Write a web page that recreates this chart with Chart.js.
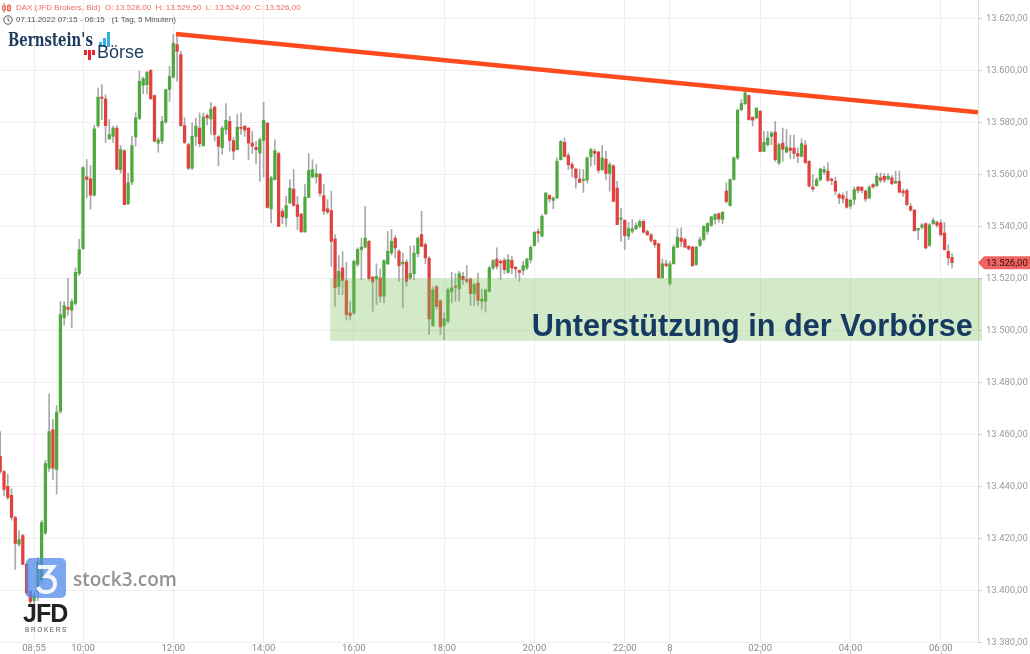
<!DOCTYPE html>
<html>
<head>
<meta charset="utf-8">
<script src="https://cdn.jsdelivr.net/npm/chart.js@4.4.1/dist/chart.umd.min.js"></script>
<style>
  html, body { margin: 0; padding: 0; background: #fff; }
  #wrap { position: relative; width: 1030px; height: 654px; overflow: hidden; font-family: "Liberation Sans", Arial, sans-serif; }
  #chart { position: absolute; left: 0; top: 0; }
  .hdr { position: absolute; left: 16px; font-size: 8px; white-space: pre; line-height: 10px; }
  #h1 { top: 3px; color: #ee6a63; }
  #h2 { top: 15px; color: #555; }
  .ico { position: absolute; left: 2px; }
  #bern { position: absolute; left: 8px; top: 29px; font-family: "DejaVu Serif", serif; font-weight: bold; font-size: 18px; color: #1c3b5e; transform: scaleX(0.74); transform-origin: left top; }
  #boerse { position: absolute; left: 97px; top: 42px; font-size: 18px; color: #1c3b5e; }
  .bar { position: absolute; background: #35aee6; }
  .rbar { position: absolute; background: #e8262c; }
  #s3box { position: absolute; left: 26px; top: 558px; width: 40px; height: 40px; border-radius: 5px; background: rgba(80,138,232,0.75); }
  #s3txt { position: absolute; left: 73px; top: 566px; font-size: 19px; color: rgba(120,120,120,0.8); font-family: "Open Sans", "Liberation Sans", sans-serif; font-weight: 600; }
  #jfd { position: absolute; left: 23px; top: 599px; font-size: 25px; font-weight: bold; color: #222; letter-spacing: -1px; }
  #brokers { position: absolute; left: 25px; top: 626px; font-size: 6.5px; color: #555; letter-spacing: 1.6px; }
</style>
</head>
<body>
<div id="wrap">
  <canvas id="chart" width="1030" height="654"></canvas>
  <svg class="ico" style="top:3px" width="10" height="10" viewBox="0 0 10 10">
    <path d="M2 0v10M7 1v8" stroke="#ee6a63" stroke-width="1"/>
    <rect x="0.5" y="3" width="3" height="4" fill="none" stroke="#ee6a63"/>
    <rect x="5.5" y="2.5" width="3" height="5" fill="none" stroke="#ee6a63"/>
  </svg>
  <div class="hdr" id="h1">DAX (JFD Brokers, Bid)  O: 13.528,00  H: 13.529,50  L: 13.524,00  C: 13.526,00</div>
  <svg class="ico" style="top:15px;left:3px" width="10" height="10" viewBox="0 0 10 10">
    <circle cx="5" cy="5" r="4.2" fill="none" stroke="#555" stroke-width="1"/>
    <path d="M5 2.5v2.8l1.8 1.2" fill="none" stroke="#555" stroke-width="1"/>
  </svg>
  <div class="hdr" id="h2">07.11.2022 07:15 - 06:15   (1 Tag, 5 Minuten)</div>
  <div id="bern">Bernstein's</div>
  <div class="bar" style="left:99px;top:42px;width:3px;height:5px"></div>
  <div class="bar" style="left:103px;top:38px;width:3px;height:9px"></div>
  <div class="bar" style="left:107px;top:32px;width:3px;height:15px"></div>
  <div class="rbar" style="left:84px;top:50px;width:3px;height:5px"></div>
  <div class="rbar" style="left:88px;top:50px;width:3px;height:10px"></div>
  <div class="rbar" style="left:92px;top:50px;width:3px;height:5px"></div>
  <div id="boerse">Börse</div>
  <div id="s3box"><svg width="40" height="40" viewBox="0 0 40 40"><path d="M12 9h15l-7 9c6 0 9 3 9 8s-4 8-9 8c-4 0-7-2-8-5" fill="none" stroke="rgba(255,255,255,0.9)" stroke-width="4"/></svg></div>
  <div id="s3txt">stock3.com</div>
  <div id="jfd">JFD</div>
  <div id="brokers">BROKERS</div>
</div>
<script>
// 5 minute sessions shown (07.11. 08:10 - 22:55, 08.11. 00:00 - 06:15)
const sessions = [['08:10', '22:55'], ['00:00', '06:15']];

const opens = [
  13451.5, 13445.7, 13440, 13436.5, 13428, 13417.7, 13421, 13410, 13399.5, 13396,
  13399.5, 13404, 13422, 13447, 13461.8, 13446.5, 13468.8, 13504.9, 13508.8, 13507.7,
  13510.3, 13521.8, 13531.5, 13559, 13558.3, 13552, 13578.7, 13589.7, 13589, 13573.7,
  13574.6, 13577.8, 13561.8, 13569, 13548.7, 13557, 13574.4, 13581.5, 13594.2, 13594.5,
  13600, 13590.3, 13572, 13572.7, 13580.1, 13592.6, 13597.4, 13609.9, 13606, 13578.7,
  13571.4, 13562.4, 13574.6, 13577.8, 13571, 13582.6, 13581.3, 13585.9, 13574.4, 13570.2,
  13577.2, 13580.4, 13573, 13569.5, 13578.1, 13578.5, 13577.8, 13572, 13570.4, 13568.2,
  13573, 13579.7, 13546.7, 13558, 13568, 13545.8, 13543.2, 13549, 13554.3, 13548.3,
  13544.7, 13537.8, 13551, 13559, 13559, 13560, 13551.8, 13546.7, 13546, 13535.1,
  13516.9, 13524, 13519, 13506.7, 13506.7, 13525.3, 13531, 13532, 13534.2, 13520.5,
  13519.8, 13520.1, 13513.1, 13525.5, 13529.8, 13535.5, 13530.4, 13525.5, 13526.2, 13520.1,
  13521.8, 13529.5, 13536.8, 13533, 13527.7, 13501.8, 13516.7, 13511.2, 13501.8, 13503.5,
  13515, 13517, 13515.9, 13520.8, 13519.5, 13519.7, 13514.1, 13518.2, 13511.2, 13511.2,
  13515, 13524, 13527.4, 13526.5, 13526.9, 13522.3, 13526.9, 13524.2, 13523, 13523,
  13524, 13527.2, 13532.6, 13538, 13536.2, 13544.9, 13551.8, 13550, 13550.9, 13565.6,
  13572.3, 13567.2, 13563.7, 13562, 13558.2, 13557.6, 13557.7, 13566.7, 13568.8, 13568.5,
  13561.8, 13565.9, 13560.3, 13563.3, 13554.7, 13542.6, 13542.3, 13536.2, 13538.1, 13539,
  13540, 13541.9, 13538, 13536.7, 13534.6, 13533.3, 13520.1, 13525.6, 13518, 13525.6,
  13532, 13535.5, 13534.9, 13532.3, 13532, 13525.3, 13532.6, 13535, 13538, 13540.3,
  13542.6, 13544.9, 13542.6, 13553.5, 13548, 13558, 13566.3, 13584.9, 13587.2, 13590.3,
  13581.9, 13581.7, 13584.2, 13568.8, 13571.4, 13574.6, 13576.2, 13564.4, 13572, 13568.5,
  13570.1, 13570.1, 13568, 13566.9, 13571.2, 13565, 13555.1, 13555.6, 13557.9, 13560.8,
  13561.2, 13558.2, 13557.3, 13552.2, 13551.8, 13550.5, 13547.7, 13550.3, 13555.1, 13555.1,
  13553.5, 13550.9, 13556, 13555.6, 13558.6, 13559.2, 13558.2, 13558.6, 13556.7, 13557.3,
  13553.5, 13553.8, 13547.7, 13546.2, 13538.5, 13539.7, 13541, 13532.6, 13541, 13541.5,
  13541.3, 13537.4, 13530.4, 13528
];
const highs = [
  13461, 13446, 13444.6, 13439, 13428.5, 13423, 13421.5, 13410.5, 13400, 13399,
  13412.6, 13427, 13450, 13475.6, 13465.7, 13471, 13511, 13511, 13520, 13512,
  13524, 13535, 13563, 13565.7, 13563.4, 13578.8, 13593.2, 13594.5, 13590.6, 13581,
  13578.5, 13578.7, 13571, 13569.5, 13560.5, 13574.6, 13583.6, 13599.6, 13597.4, 13599.6,
  13600.3, 13590.6, 13574, 13582.3, 13592.8, 13601.5, 13613.7, 13613.7, 13607.3, 13581.7,
  13572, 13579.7, 13581.5, 13583.6, 13583.6, 13583.3, 13587.7, 13586.2, 13574.9, 13578.5,
  13587.2, 13582.3, 13574, 13583, 13583.6, 13578.7, 13578, 13576.5, 13572.7, 13574,
  13587.7, 13580, 13559.2, 13573.3, 13568.5, 13546.7, 13551.5, 13558, 13561.8, 13551.5,
  13545, 13556, 13568, 13565.6, 13563.7, 13560.5, 13556, 13550.3, 13553.5, 13536.8,
  13528.7, 13530.4, 13526, 13511, 13527.2, 13531.7, 13535.5, 13547.7, 13534.6, 13520.8,
  13525.6, 13523.6, 13527.2, 13538, 13538.7, 13536.4, 13531, 13529.7, 13527.2, 13532.3,
  13532.6, 13535.9, 13545.8, 13533.6, 13528.5, 13516.7, 13517.2, 13511.8, 13506.7, 13516.3,
  13522.3, 13521.8, 13522.7, 13522.3, 13524.9, 13520.1, 13518.2, 13522, 13515.9, 13515.9,
  13524.6, 13527.2, 13531.7, 13527.2, 13527.8, 13529.1, 13528.5, 13524.6, 13523.3, 13526.5,
  13527.8, 13532.6, 13538.1, 13539, 13544.5, 13553.1, 13552.2, 13551.3, 13566.3, 13573,
  13574, 13568.2, 13564.6, 13562.4, 13562, 13561.8, 13566.7, 13570.1, 13569.7, 13568.8,
  13571, 13568.8, 13564.6, 13563.7, 13557.3, 13547, 13542.6, 13541.5, 13542.6, 13541.3,
  13542.6, 13542.6, 13538.5, 13537.2, 13534.9, 13533.6, 13527.4, 13526.9, 13526.5, 13532.9,
  13539, 13539.4, 13535.5, 13532.6, 13532.3, 13532.3, 13535.9, 13540.3, 13541.5, 13543.8,
  13544.9, 13545.1, 13545.8, 13556.7, 13558.3, 13566.7, 13585.1, 13588.7, 13591.9, 13590.6,
  13582.1, 13585.5, 13584.6, 13576.5, 13576.5, 13576.5, 13580.4, 13572, 13577.8, 13577.2,
  13575.1, 13575.1, 13570.1, 13573.6, 13573, 13565.3, 13559.9, 13558.6, 13562.4, 13563.1,
  13564.4, 13558.6, 13559, 13552.8, 13552.8, 13553.5, 13550.5, 13555.1, 13555.4, 13555.1,
  13554.1, 13555.6, 13556.4, 13560.5, 13560.5, 13560.3, 13560.3, 13559.5, 13561.2, 13561.2,
  13554.4, 13554.4, 13548.7, 13546.5, 13539.2, 13541, 13541.3, 13541, 13543.2, 13542.1,
  13542.6, 13541.5, 13532.9, 13529.5
];
const lows = [
  13445, 13436.5, 13435, 13427, 13408, 13417, 13410, 13398, 13394, 13394,
  13396, 13402.6, 13421.6, 13445.7, 13442.6, 13437, 13468, 13502, 13505.7, 13501,
  13509.7, 13521, 13531, 13551, 13546.6, 13551.5, 13578, 13581, 13572.3, 13573.3,
  13572.3, 13561.8, 13560.5, 13548.3, 13548.3, 13556, 13570.8, 13581, 13591, 13591,
  13589, 13572.5, 13568.5, 13571.8, 13579.6, 13588, 13597, 13595.8, 13578.5, 13571.8,
  13561.8, 13561.8, 13571, 13570.5, 13570.8, 13579, 13575.3, 13572.7, 13563.3, 13567.7,
  13575.3, 13568.9, 13565.6, 13569.5, 13575.3, 13574.6, 13565.6, 13568, 13564, 13557.3,
  13559, 13547, 13541.3, 13557.7, 13540, 13541, 13540, 13548.7, 13547.6, 13538.7,
  13537.7, 13537.7, 13551, 13558.6, 13556.7, 13551.5, 13544.5, 13544.9, 13524.6, 13509.2,
  13513.7, 13513.7, 13504, 13504, 13506, 13524.6, 13519.5, 13531.7, 13519.2, 13507.3,
  13509.9, 13510.8, 13510.5, 13525.3, 13529, 13527.8, 13518.8, 13508.6, 13516.9, 13519.5,
  13519.5, 13528.2, 13532.3, 13525.6, 13498.3, 13501.5, 13508, 13498.3, 13496.4, 13502.8,
  13510.5, 13511.2, 13511.2, 13517.6, 13518.2, 13509.5, 13509.5, 13509.5, 13508, 13507,
  13514.7, 13523.3, 13523.5, 13519.5, 13521.8, 13522, 13521.8, 13520.1, 13518.8, 13521.4,
  13523.3, 13525.9, 13532.3, 13533.9, 13535.9, 13544.5, 13549.2, 13546.7, 13550.5, 13565.4,
  13566.7, 13561.8, 13559, 13554.7, 13556.9, 13553, 13556.7, 13563.1, 13563.7, 13560.5,
  13561.5, 13558, 13553.5, 13549.6, 13540.6, 13534.2, 13531, 13534.9, 13537.4, 13538.7,
  13539.4, 13537.4, 13536.4, 13533.8, 13532, 13520.1, 13520.1, 13524.4, 13517.2, 13525.3,
  13531.7, 13532.3, 13531.7, 13530.8, 13524.6, 13524.9, 13532.3, 13534.5, 13537, 13540,
  13540.8, 13541.5, 13541, 13549, 13547.7, 13557.7, 13565.6, 13584.4, 13586.8, 13580.8,
  13578.5, 13581.3, 13568.5, 13568.8, 13570.8, 13571.4, 13565, 13563.7, 13565, 13568.2,
  13566, 13566, 13564.5, 13566.7, 13564.1, 13555.1, 13553.5, 13555.4, 13557.3, 13559.9,
  13557.3, 13556, 13552.2, 13548.7, 13549, 13547, 13546.7, 13548.3, 13552.8, 13552.8,
  13549.6, 13550.5, 13554.7, 13555.1, 13556.9, 13556.9, 13557.7, 13556, 13556.4, 13552.8,
  13551.5, 13547.9, 13545.8, 13538.1, 13534.9, 13539, 13531.3, 13532.3, 13540.6, 13539.7,
  13536.2, 13530.8, 13525.1, 13524
];
const closes = [
  13445.7, 13438.8, 13435.7, 13428, 13418, 13419.5, 13410, 13399, 13395.7, 13398,
  13411, 13426, 13448.7, 13461, 13447, 13468.5, 13506, 13509.5, 13508, 13511,
  13522.3, 13531, 13562.6, 13558, 13552, 13577.5, 13589.7, 13589.2, 13578.7, 13575.3,
  13577.8, 13562, 13569.5, 13548.3, 13556.7, 13571, 13581.7, 13595.8, 13596.8, 13599.2,
  13589, 13572.7, 13573.3, 13580.4, 13592.6, 13597.7, 13610.5, 13607.3, 13578.7, 13572.3,
  13562.4, 13574.6, 13578.5, 13571.8, 13582, 13581.7, 13585.1, 13575.3, 13570.8, 13577.8,
  13580.8, 13573, 13568.9, 13578.2, 13577.6, 13577, 13572, 13570.8, 13569.5, 13573.3,
  13580.8, 13547.3, 13558.6, 13569.1, 13540, 13543.6, 13548, 13554.7, 13548, 13543.8,
  13537.8, 13551.2, 13561.5, 13561.8, 13560.3, 13552.6, 13545.8, 13545.5, 13534.2, 13516.3,
  13522.7, 13519.2, 13506, 13505.6, 13526.5, 13531, 13532, 13535.5, 13519.9, 13518.6,
  13520.8, 13513.1, 13526.8, 13530.4, 13534.2, 13531.7, 13524.9, 13526.2, 13518.8, 13521.8,
  13529.7, 13535.5, 13532.3, 13527.8, 13504.4, 13515.6, 13509.2, 13501.3, 13504.4, 13515.6,
  13516.3, 13516.6, 13521.8, 13519.5, 13518.8, 13514.1, 13517.6, 13511.5, 13512, 13515.6,
  13524, 13526.8, 13524.6, 13525.9, 13523.3, 13527.2, 13524, 13523.6, 13522.3, 13524.9,
  13527.4, 13531.9, 13537.7, 13537.4, 13543.8, 13552.8, 13550.5, 13550.9, 13565, 13572.7,
  13566.9, 13563.7, 13562.4, 13558.6, 13556.9, 13558.2, 13566.3, 13569.5, 13568, 13561.5,
  13566.3, 13560.3, 13563.7, 13549.6, 13540.6, 13543.2, 13536.4, 13539.1, 13539, 13540.3,
  13541.9, 13537.7, 13536.8, 13534.6, 13532.9, 13520.1, 13525.6, 13524.9, 13525.6, 13532,
  13535.9, 13534.2, 13532, 13531.3, 13524.9, 13532, 13534.9, 13540, 13541, 13543.6,
  13544.5, 13542.8, 13545.4, 13549.6, 13558, 13566.3, 13584.6, 13587.2, 13591.3, 13581,
  13580.8, 13585.5, 13568.8, 13572.3, 13574, 13575.9, 13565.6, 13571.4, 13569.7, 13570.5,
  13569.2, 13568, 13567, 13571.8, 13564.6, 13555.4, 13554.4, 13557.9, 13562, 13561.8,
  13557.6, 13557.6, 13553.5, 13550.9, 13550.5, 13547.4, 13550, 13554.1, 13553.8, 13553.8,
  13550.5, 13555.1, 13555.1, 13559.2, 13557.7, 13557.7, 13559.2, 13556.4, 13557.3, 13553.1,
  13552.8, 13548.3, 13546.2, 13538.3, 13539.2, 13540.6, 13531.7, 13540.6, 13542.3, 13540.3,
  13536.8, 13531, 13527.8, 13526
];

const tickTimes  = ['08:55', '10:00', '12:00', '14:00', '16:00', '18:00', '20:00', '22:00', '00:00', '02:00', '04:00', '06:00'];
const tickLabels = ['08:55', '10:00', '12:00', '14:00', '16:00', '18:00', '20:00', '22:00', '8', '02:00', '04:00', '06:00'];
const yTicks = [13380, 13400, 13420, 13440, 13460, 13480, 13500, 13520, 13540, 13560, 13580, 13600, 13620];

// drawn annotations: trend line (candle index, price) and support zone
const trendLine = [{ x: 46.7, y: 13614 }, { x: 259.9, y: 13583.9 }];
const zoneFrom = 87.7;
const zoneTo = 260.9;
const zoneLow = 13496;
const zoneHigh = 13520;
const zoneText = 'Unterstützung in der Vorbörse';

// visible window (candle index)
const xMin = -0.064;
const xMax = 259.9;

function buildTimes(list) {
  const out = [];
  list.forEach(([a, b]) => {
    let [h, m] = a.split(':').map(Number);
    const [eh, em] = b.split(':').map(Number);
    while (h * 60 + m <= eh * 60 + em) {
      out.push(String(h).padStart(2, '0') + ':' + String(m).padStart(2, '0'));
      m += 5;
      if (m >= 60) { m -= 60; h++; }
    }
  });
  return out;
}

function fmt(v) {
  const [a, b] = Number(v).toFixed(2).split('.');
  return a.replace(/\B(?=(\d{3})+(?!\d))/g, '.') + ',' + b;
}

const times = buildTimes(sessions);
const tickIdx = tickTimes.map(t => times.indexOf(t));

const GREEN = '#4fa93f';
const RED = '#e2423d';

const bodies = times.map((t, i) => ({ x: i, y: [opens[i], closes[i]] }));
const wicks = times.map((t, i) => ({ x: i, y: [lows[i], highs[i]] }));
const bodyColors = times.map((t, i) => closes[i] >= opens[i] ? GREEN : RED);

const overlay = {
  id: 'overlay',
  afterDatasetsDraw(chart) {
    const { ctx, scales: { x, y } } = chart;
    const x0 = x.getPixelForValue(zoneFrom);
    const x1 = x.getPixelForValue(zoneTo);
    const yTop = y.getPixelForValue(zoneHigh);
    const yBot = y.getPixelForValue(zoneLow);
    ctx.save();
    ctx.fillStyle = 'rgba(122, 190, 92, 0.33)';
    ctx.fillRect(x0, yTop, x1 - x0, yBot - yTop);
    ctx.font = 'bold 30.7px "Liberation Sans", Arial, sans-serif';
    ctx.fillStyle = '#173a63';
    ctx.textAlign = 'right';
    ctx.textBaseline = 'alphabetic';
    ctx.fillText(zoneText, x1 - 9, yBot - 5);
    ctx.restore();
  },
  afterDraw(chart) {
    const { ctx, chartArea, scales: { x, y } } = chart;
    ctx.save();
    // small tick marks under the time labels
    ctx.strokeStyle = '#c8c8c8';
    ctx.lineWidth = 1;
    tickIdx.forEach(v => {
      const px = Math.round(x.getPixelForValue(v)) + 0.5;
      ctx.beginPath();
      ctx.moveTo(px, 651);
      ctx.lineTo(px, 654);
      ctx.stroke();
    });
    // last price marker
    const last = closes[closes.length - 1];
    const py = y.getPixelForValue(last);
    const r = chartArea.right;
    ctx.fillStyle = '#f26363';
    ctx.beginPath();
    ctx.moveTo(r, py);
    ctx.lineTo(r + 6, py - 6.5);
    ctx.lineTo(chart.width, py - 6.5);
    ctx.lineTo(chart.width, py + 6.5);
    ctx.lineTo(r + 6, py + 6.5);
    ctx.closePath();
    ctx.fill();
    ctx.fillStyle = '#2a0d0d';
    ctx.font = '9.5px Roboto, "Liberation Sans", sans-serif';
    ctx.textAlign = 'left';
    ctx.textBaseline = 'middle';
    ctx.fillText(fmt(last), r + 8, py + 0.5);
    ctx.restore();
  }
};

const tickFont = { family: 'Roboto, "Liberation Sans", sans-serif', size: 9.5 };

new Chart(document.getElementById('chart').getContext('2d'), {
  type: 'bar',
  data: {
    datasets: [
      {
        type: 'line',
        data: trendLine,
        borderColor: '#ff4a1d',
        borderWidth: 4.5,
        pointRadius: 0,
        order: 0
      },
      {
        data: bodies,
        backgroundColor: bodyColors,
        barThickness: 2.6,
        minBarLength: 1,
        grouped: false,
        order: 1
      },
      {
        data: wicks,
        backgroundColor: '#a9a9a9',
        barThickness: 1,
        grouped: false,
        order: 2
      }
    ]
  },
  options: {
    responsive: false,
    animation: false,
    layout: { padding: 0 },
    plugins: { legend: { display: false }, tooltip: { enabled: false } },
    scales: {
      x: {
        type: 'linear',
        min: xMin,
        max: xMax,
        offset: false,
        afterBuildTicks: s => { s.ticks = tickIdx.map(v => ({ value: v })); },
        afterFit: s => { s.height = 11.7; s.paddingLeft = 0; s.paddingRight = 0; },
        grid: { color: '#efefef', drawTicks: false, offset: false },
        border: { display: false },
        ticks: {
          padding: 1,
          maxRotation: 0,
          autoSkip: false,
          color: '#8a8a8a',
          font: tickFont,
          callback: (v, i) => tickLabels[i]
        }
      },
      y: {
        position: 'right',
        min: 13380,
        max: 13627.04,
        afterBuildTicks: s => { s.ticks = yTicks.map(v => ({ value: v })); },
        afterFit: s => { s.width = 52; s.paddingTop = 0; s.paddingBottom = 0; },
        grid: { color: '#efefef', tickLength: 4, tickColor: '#cfcfcf' },
        border: { display: true, color: '#dcdcdc' },
        ticks: { padding: 4, color: '#9a9a9a', font: tickFont, callback: v => fmt(v) }
      }
    }
  },
  plugins: [overlay]
});
</script>
</body>
</html>
